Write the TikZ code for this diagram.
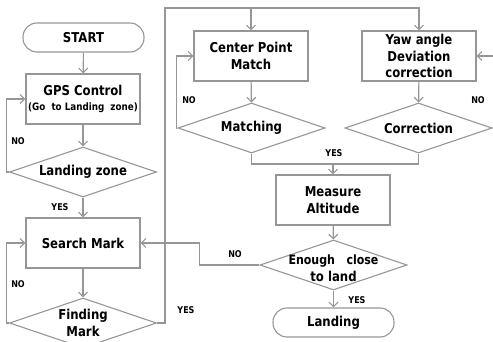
\documentclass[tikz,border=0pt]{standalone}
\usepackage{fontspec}
\newfontfamily\dvf{DejaVu Sans}[FakeStretch=0.86]
\usetikzlibrary{arrows.meta,shapes.geometric}
\definecolor{ln}{RGB}{150,150,150}
\begin{document}
\begin{tikzpicture}[x=1pt,y=-1pt,
  every node/.style={font=\dvf\bfseries\fontsize{13.6}{16.5}\selectfont},
  boxn/.style={draw=ln,line width=1.1pt,minimum width=114pt,minimum height=50pt,inner sep=0pt,align=center},
  pill/.style={draw=ln,line width=1.1pt,minimum width=121pt,minimum height=29pt,rounded corners=14pt,inner sep=0pt},
  dia/.style={draw=ln,line width=1.1pt,diamond,minimum width=147pt,minimum height=50pt,inner sep=0pt},
  dtext/.style={align=center,inner sep=0pt},
  lab/.style={font=\dvf\bfseries\fontsize{9.3}{11}\selectfont,inner sep=0pt},
  conn/.style={draw=ln,line width=1.1pt},
  arr/.style={conn,-{Straight Barb[length=4.5pt,width=9pt]}}
]
\useasboundingbox (0,0) rectangle (493,342);
\node[pill] (start) at (83.5,37.5) {START};
\node[boxn] (gps) at (83,99) {GPS Control\\[-2pt]{\fontsize{10.2}{12}\selectfont (Go~ to Landing~ zone)}};
\node[dia,label={[dtext]center:Landing zone}] (lz) at (83,172) {};
\node[boxn] (search) at (83,243) {Search Mark};
\node[dia,label={[dtext]center:Finding\\Mark}] (find) at (83,323) {};
\node[boxn] (cpm) at (251,56) {Center Point\\Match};
\node[dia,label={[dtext]center:Matching}] (match) at (251.5,128) {};
\node[boxn] (yaw) at (419,56) {Yaw angle\\Deviation\\correction};
\node[dia,label={[dtext]center:Correction}] (corr) at (418.5,128) {};
\node[boxn] (meas) at (333,200) {Measure\\Altitude};
\node[dia,label={[dtext,yshift=-3pt]center:{\fontsize{12.8}{16.5}\selectfont Enough~~ close\\to land}}] (enough) at (333.5,265) {};
\node[pill] (land) at (333.5,322.5) {Landing};

\coordinate (top) at (165,8);
\coordinate (mg) at (333,164);

\draw[arr] (start) -- (gps);
\draw[arr] (gps) -- (lz);
\draw[arr] (lz.west) -- ++(-2.5,0) |- (gps.west);
\draw[arr] (lz.south) -- (search.north);
\draw[arr] (search) -- (find);
\draw[arr] (find.west) -- ++(-2.5,0) |- (search.west);
\draw[arr] (find.east) -| (top) -| (cpm.north);
\draw[arr] (cpm.north |- top) -| (yaw.north);
\draw[arr] (cpm) -- (match);
\draw[arr] (yaw) -- (corr);
\draw[arr] (match.west) -- ++(-1,0) |- (cpm.west);
\draw[arr] (corr.east) -- ++(0.5,0) |- (yaw.east);
\draw[conn] (match.south) |- (mg) -| (corr.south);
\draw[arr] (mg) -- (meas.north);
\draw[arr] (meas) -- (enough);
\draw[arr] (enough.south) -- (land.north);
\draw[arr] (enough.west) -- ++(-60,0) |- (search.east);

\node[lab] (n1) at (18,141) {NO};
\node[lab] (y1) at (60,207) {YES};
\node[lab] (n2) at (18,284) {NO};
\node[lab] (y2) at (186,310) {YES};
\node[lab] (n3) at (189,100) {NO};
\node[lab] (n4) at (478,100) {NO};
\node[lab] (y3) at (334,153) {YES};
\node[lab] (n5) at (235,254) {NO};
\node[lab] (y4) at (357,300) {YES};
\end{tikzpicture}
\end{document}
